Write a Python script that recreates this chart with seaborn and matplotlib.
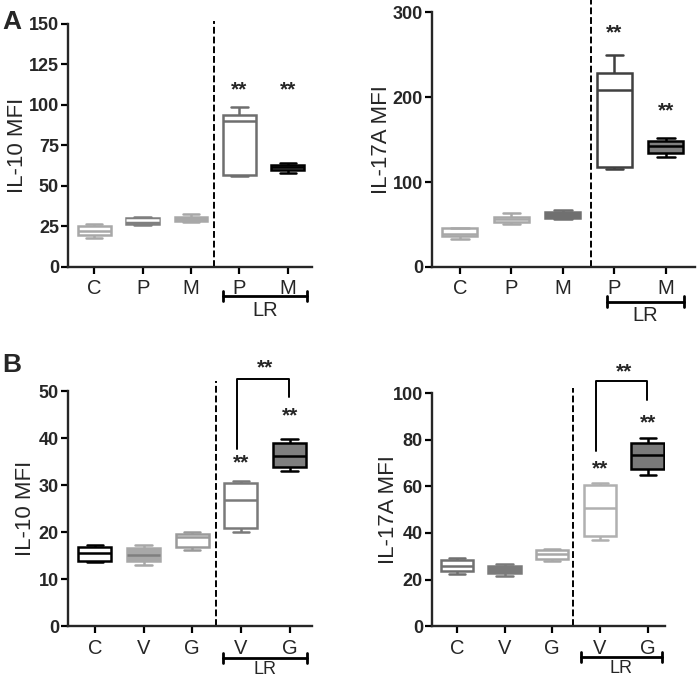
import numpy as np
import pandas as pd
import matplotlib
matplotlib.use("Agg")
import matplotlib.pyplot as plt
import seaborn as sns

# box values per group: [min, q1, median, q3, max]
keys_a = ["C", "P", "M", "LR P", "LR M"]
labels_a = ["C", "P", "M", "P", "M"]
keys_b = ["C", "V", "G", "LR V", "LR G"]
labels_b = ["C", "V", "G", "V", "G"]

il10_a = [[18, 19.5, 22, 25.5, 26.5],
          [26, 26.5, 29, 30, 31],
          [28, 28.5, 30, 31, 33],
          [56, 57, 90, 94, 99],
          [58, 60, 61.5, 63, 64]]
il17_a = [[33, 37, 39, 46, 46.5],
          [50.5, 52.5, 56.5, 59, 63],
          [56, 57.5, 62, 64.5, 67],
          [115.5, 118, 209, 229, 250],
          [130, 134.5, 143, 148.5, 151.5]]
il10_b = [[13.6, 14, 15.5, 16.9, 17.3],
          [13.1, 13.8, 15.2, 16.7, 17.2],
          [16.3, 16.9, 18.9, 19.7, 20.1],
          [20, 21, 26.8, 30.5, 31],
          [33, 33.8, 36.3, 38.9, 39.9]]
il17_b = [[22.6, 23.6, 25.8, 28.3, 29.3],
          [21.5, 22.8, 24.5, 26, 26.8],
          [27.9, 28.8, 31.2, 32.8, 33.2],
          [37, 38.8, 50.8, 60.5, 61.5],
          [65, 67.6, 73.6, 78.5, 80.7]]

# significance marks: (group index, y)
stars_il10_a = [(3, 110), (4, 110)]
stars_il17_a = [(3, 277), (4, 185)]
stars_il10_b = [(3, 35), (4, 45), (3.5, 55.3)]
stars_il17_b = [(3, 68), (4, 88), (3.5, 109.7)]
# comparison bracket LR V vs LR G: (y at V, top, y at G)
bracket_il10_b = [37.8, 52.7, 48.7]
bracket_il17_b = [75, 105, 97]

LG = "#a8a8a8"
MG = "#7f7f7f"

sns.set_style("ticks")
plt.rcParams["font.family"] = ["Liberation Sans", "DejaVu Sans"]
plt.rcParams["axes.linewidth"] = 1.7

fig = plt.figure(figsize=(6.97, 6.79), dpi=100)


def draw_panel(rect, keys, ticklabels, values, edges, fills, medians,
               ylim, yticks, ylabel, label_x, xlim, dash_x, dash_top,
               bracket_x, bracket_y, lr_off, lr_size, stars):
    ax = fig.add_axes(rect)
    df = pd.DataFrame({"group": np.repeat(keys, 5), "mfi": np.concatenate(values)})
    for k, ec, fc, mc in zip(keys, edges, fills, medians):
        sns.boxplot(data=df[df["group"] == k], x="group", y="mfi", order=keys, ax=ax,
                    width=0.68, whis=(0, 100), color=fc, linecolor=ec, linewidth=1.8,
                    saturation=1, showfliers=False, medianprops={"color": mc})
    ax.set_xlim(*xlim)
    ax.set_ylim(*ylim)
    ax.set_yticks(yticks)
    ax.set_yticklabels([str(t) for t in yticks], fontweight="bold", fontsize=13)
    ax.set_xticks(range(len(keys)))
    ax.set_xticklabels(ticklabels, fontsize=14.5)
    ax.set_xlabel("")
    ax.set_ylabel(ylabel, fontsize=16)
    ax.yaxis.set_label_coords(label_x, 0.5)
    ax.tick_params(length=5, width=1.6, color="black")
    ax.tick_params(axis="x", pad=4)
    ax.tick_params(axis="y", pad=1.5)
    sns.despine(ax=ax)
    ax.axvline(dash_x, ymin=0, ymax=dash_top, color="black", lw=1.4,
               ls=(0, (3.5, 1.5)), clip_on=False)
    # LR group bracket under the axis
    tr = ax.get_xaxis_transform()
    x0, x1 = bracket_x
    ax.plot([x0, x1], [bracket_y, bracket_y], color="black", lw=2, transform=tr, clip_on=False)
    for xx in (x0, x1):
        ax.plot([xx, xx], [bracket_y - 0.022, bracket_y + 0.022], color="black", lw=2,
                transform=tr, clip_on=False)
    ax.annotate("LR", ((x0 + x1) / 2, bracket_y), xycoords=tr, xytext=(0, lr_off),
                textcoords="offset points", ha="center", va="baseline", fontsize=lr_size,
                annotation_clip=False)
    for sx, sy in stars:
        ax.annotate("**", (sx, sy), xytext=(0, -5), textcoords="offset points",
                    ha="center", va="baseline", fontsize=15, fontweight="bold",
                    annotation_clip=False)
    return ax


draw_panel([0.0976, 0.6068, 0.350, 0.3579], keys_a, labels_a, il10_a,
           [LG, MG, LG, "#6e6e6e", "black"], ["white", MG, LG, "white", MG],
           [LG, "white", LG, "#6e6e6e", "black"],
           (0, 150), [0, 25, 50, 75, 100, 125, 150], "IL-10 MFI", -0.164,
           (-0.54, 4.5), 2.47, 1.012, (2.66, 4.39), -0.119, -14.4, 14.5, stars_il10_a)

draw_panel([0.6198, 0.6068, 0.377, 0.3751], keys_a, labels_a, il17_a,
           [LG, LG, "#707070", "#404040", "black"], ["white", "white", "#707070", "white", MG],
           [LG, LG, "#707070", "#404040", "black"],
           (0, 300), [0, 100, 200, 300], "IL-17A MFI", -0.152,
           (-0.54, 4.56), 2.54, 1.048, (2.85, 4.35), -0.137, -13.5, 14.5, stars_il17_a)

ax_c = draw_panel([0.0976, 0.0776, 0.350, 0.3461], keys_b, labels_b, il10_b,
                  ["black", LG, "#9a9a9a", "#7a7a7a", "black"], ["white", LG, "white", "white", MG],
                  ["black", MG, "#9a9a9a", "#7a7a7a", "black"],
                  (0, 50), [0, 10, 20, 30, 40, 50], "IL-10 MFI", -0.131,
                  (-0.55, 4.46), 2.48, 1.043, (2.63, 4.35), -0.135, -11.3, 13, stars_il10_b)

ax_d = draw_panel([0.6198, 0.0776, 0.334, 0.3436], keys_b, labels_b, il17_b,
                  ["#707070", "#7a7a7a", LG, "#b0b0b0", "black"],
                  ["white", "#7a7a7a", "white", "white", "#7a7a7a"],
                  ["#707070", "#7a7a7a", LG, "#b0b0b0", "black"],
                  (0, 100), [0, 20, 40, 60, 80, 100], "IL-17A MFI", -0.143,
                  (-0.52, 4.36), 2.43, 1.02, (2.6, 4.3), -0.131, -11.3, 13, stars_il17_b)

for ax, (yv, yt, yg) in ((ax_c, bracket_il10_b), (ax_d, bracket_il17_b)):
    ax.plot([2.92, 2.92, 3.98, 3.98], [yv, yt, yt, yg], color="black", lw=1.4, clip_on=False)

fig.text(0.003, 0.967, "A", fontsize=19, fontweight="bold", va="center")
fig.text(0.003, 0.462, "B", fontsize=19, fontweight="bold", va="center")

fig.savefig("out.png", dpi=100)
